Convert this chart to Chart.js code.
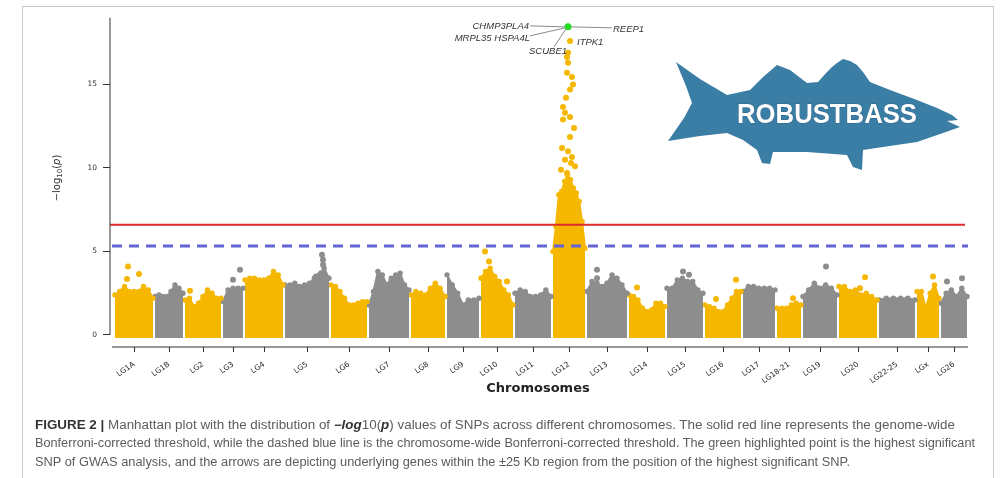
<!DOCTYPE html>
<html>
<head>
<meta charset="utf-8">
<script src="https://cdn.jsdelivr.net/npm/chart.js@4.4.0/dist/chart.umd.min.js"></script>
<style>
  html, body { margin: 0; padding: 0; background: #fff; }
  body { width: 1000px; height: 478px; position: relative; overflow: hidden; }
  #frame { position: absolute; left: 22px; top: 6px; width: 972px; height: 480px; border: 1.5px solid #c9c9c9; border-bottom: none; box-sizing: border-box; }
  #wrap { position: absolute; left: 0; top: 0; width: 1000px; height: 400px; }
  #logo { position: absolute; left: 0; top: 0; pointer-events: none; }
  .cap { position: absolute; left: 35px; white-space: nowrap; font-family: 'Liberation Sans Narrow', 'Liberation Sans', Arial, sans-serif; font-size: 12px; color: #5c5c5c; transform-origin: 0 0; }
  .cap b { color: #333; }
</style>
</head>
<body>
<div id="frame"></div>
<div id="wrap"><canvas id="myChart" width="1000" height="400"></canvas></div>

<svg id="logo" width="1000" height="478">
  <path fill="#3a7da5" d="M676,62 L700,79 L727,95 L750,90 L762,78 L777,65 L790,70 L807,83 L818,82
    L827,72 L832,67 L837,63 L843,59 L850,61 L857,65 L863,72 L870,82 L890,90 L917,100 L937,108
    L952,115 L958,120 L947,121 L960,127 L943,133 L917,142 L883,147 L863,150 L862,170 L853,167
    L847,155 L807,152 L773,152 L770,164 L762,163 L757,150 L743,140 L727,133 L700,136 L668,141
    L684,118 L692,103 L686,86 Z"/>
  <text x="737" y="123" textLength="180" lengthAdjust="spacingAndGlyphs"
    font-family="'Liberation Sans Narrow', 'Liberation Sans', Arial, sans-serif" font-weight="bold"
    font-size="28" fill="#fff" stroke="rgba(40,60,80,0.35)" stroke-width="0.8" paint-order="stroke">ROBUSTBASS</text>
</svg>

<div class="cap" id="cap1" style="top:418px"><b>FIGURE 2 |</b> Manhattan plot with the distribution of <b><i>−log</i></b>10(<b><i>p</i></b>) values of SNPs across different chromosomes. The solid red line represents the genome-wide</div>
<div class="cap" id="cap2" style="top:436px">Bonferroni-corrected threshold, while the dashed blue line is the chromosome-wide Bonferroni-corrected threshold. The green highlighted point is the highest significant</div>
<div class="cap" id="cap3" style="top:455px">SNP of GWAS analysis, and the arrows are depicting underlying genes within the ±25 Kb region from the position of the highest significant SNP.</div>

<script>
// chromosomen en hun lengte (Mb, ongeveer)
const chromosomes = ['LG1A', 'LG1B', 'LG2', 'LG3', 'LG4', 'LG5', 'LG6', 'LG7', 'LG8', 'LG9', 'LG10', 'LG11',
    'LG12', 'LG13', 'LG14', 'LG15', 'LG16', 'LG17', 'LG18-21', 'LG19', 'LG20', 'LG22-25', 'LGx', 'LG26'];
const chromLengths = [38, 28, 36, 20, 38, 44, 36, 40, 34, 32, 32, 36, 32, 40, 36, 36, 36, 32, 24, 34, 38, 36, 22, 26];
const chromGap = 2;

// bovenkant van de puntenwolk per chromosoom, -log10(p)
const envelope = [
    [2.4, 2.6, 2.9, 2.6, 2.6, 2.6, 2.9, 2.7, 2.2],
    [2.3, 2.4, 2.3, 2.3, 2.6, 3.0, 2.8, 2.5],
    [2.1, 2.2, 1.7, 1.9, 2.3, 2.7, 2.5, 2.2, 2.2],
    [2.0, 2.7, 2.8, 2.8, 2.8],
    [3.3, 3.4, 3.4, 3.3, 3.3, 3.4, 3.8, 3.6, 3.0],
    [3.0, 3.0, 3.1, 2.9, 3.0, 3.1, 3.4, 3.6, 4.0, 3.4],
    [3.0, 2.9, 2.6, 2.2, 1.8, 1.8, 1.9, 2.0, 2.0],
    [1.8, 2.6, 3.8, 3.6, 3.0, 3.4, 3.6, 3.7, 3.0, 2.7],
    [2.4, 2.6, 2.5, 2.4, 2.8, 3.1, 2.8, 2.3],
    [3.6, 3.0, 2.5, 1.8, 2.1, 2.1, 2.2],
    [3.4, 3.8, 4.0, 3.5, 3.2, 2.7, 2.4, 1.8],
    [2.5, 2.7, 2.6, 2.3, 2.3, 2.4, 2.7, 2.3],
    [5.0, 6.5, 8.4, 8.6, 9.2, 9.6, 9.3, 8.8, 8.5, 8.0, 6.8, 5.2],
    [2.6, 3.2, 3.1, 2.9, 3.1, 3.6, 3.4, 3.0, 2.5],
    [2.4, 2.3, 2.1, 1.6, 1.4, 1.5, 1.9, 1.9, 1.7],
    [2.8, 2.8, 3.3, 3.4, 3.2, 3.2, 2.7, 2.5],
    [1.8, 1.7, 1.6, 1.4, 1.4, 1.8, 2.2, 2.6, 2.6],
    [2.6, 2.9, 2.9, 2.8, 2.8, 2.8, 2.7],
    [1.6, 1.6, 1.6, 1.8, 1.9, 1.8],
    [2.3, 2.7, 3.1, 2.8, 3.0, 2.8, 2.4],
    [2.9, 2.9, 2.6, 2.7, 2.4, 2.5, 2.3, 2.1],
    [2.1, 2.2, 2.2, 2.2, 2.2, 2.1],
    [2.6, 2.6, 1.6, 2.5, 3.0, 2.2],
    [1.9, 2.5, 2.7, 2.3, 2.8, 2.3]
];

// losse SNPs boven de wolk
const hitChrom = ['LG1A', 'LG1A', 'LG1A', 'LG2', 'LG3', 'LG3', 'LG5', 'LG5', 'LG5', 'LG5', 'LG5', 'LG10', 'LG10', 'LG10',
    'LG13', 'LG13', 'LG14', 'LG15', 'LG15', 'LG16', 'LG16', 'LG18-21', 'LG19', 'LG20', 'LG20', 'LGx', 'LG26', 'LG26'];
const hitPos = [13, 12, 24, 5, 17, 10, 37, 38, 38, 36, 31, 4, 8, 26, 10, 10, 8, 16, 22, 11, 31, 16, 23, 26, 21, 16, 6, 21];
const hitValue = [4.1, 3.35, 3.65, 2.65, 3.9, 3.3, 4.8, 4.5, 4.2, 3.7, 3.5, 5.0, 4.4, 3.2, 3.9, 3.4, 2.85, 3.8, 3.6, 2.15, 3.3,
    2.2, 4.1, 3.45, 2.8, 3.5, 3.2, 3.4];

// piek op LG12
const peakPos = [17, 15, 14, 15, 14, 19, 20, 17, 13, 10, 12, 17, 10, 21, 17, 9, 15, 19, 12, 22, 14, 8, 18];
const peakValue = [17.6, 16.9, 16.65, 16.3, 15.7, 15.45, 15.0, 14.7, 14.2, 13.65, 13.3, 13.05, 12.9, 12.4, 11.85, 11.2, 11.0,
    10.65, 10.5, 10.1, 9.7, 9.9, 10.3];
const topSnpPos = 15;
const topSnpValue = 18.45;
const genes = ['CHMP3PLA4', 'MRPL35 HSPA4L', 'SCUBE1', 'ITPK1', 'REEP1'];

const genomeWide = 6.6;
const chromosomeWide = 5.33;
const yTicks = [0, 5, 10, 15];
const yAxisTop = 19;

const orange = '#f5b700';
const grey = '#8d8d8d';

// begin van elk chromosoom op de genoom-as
const chromStart = [];
chromLengths.reduce((pos, len) => { chromStart.push(pos); return pos + len + chromGap; }, 0);
const chromCenter = chromStart.map((s, i) => s + chromLengths[i] / 2);
const genomeEnd = chromStart[chromStart.length - 1] + chromLengths[chromLengths.length - 1];
const colorOf = i => (i % 2 === 0 ? orange : grey);
const lg12 = chromosomes.indexOf('LG12');

const datasets = [];

// puntenwolk per chromosoom
envelope.forEach((vals, i) => {
    const step = chromLengths[i] / (vals.length - 1);
    datasets.push({
        type: 'line',
        data: vals.map((v, j) => ({ x: chromStart[i] + j * step, y: v })),
        borderColor: colorOf(i),
        backgroundColor: colorOf(i),
        borderWidth: 2,
        pointRadius: 2.7,
        pointBorderWidth: 0,
        pointBackgroundColor: colorOf(i),
        fill: { value: -0.18 },
        tension: 0,
        order: 3
    });
});

datasets.push({
    data: hitChrom.map((c, k) => ({ x: chromStart[chromosomes.indexOf(c)] + hitPos[k], y: hitValue[k] })),
    pointRadius: 3,
    pointBorderWidth: 0,
    pointBackgroundColor: hitChrom.map(c => colorOf(chromosomes.indexOf(c))),
    order: 2
});

datasets.push({
    data: peakPos.map((p, k) => ({ x: chromStart[lg12] + p, y: peakValue[k] })),
    pointRadius: 3,
    pointBorderWidth: 0,
    pointBackgroundColor: orange,
    order: 1
});

datasets.push({
    data: [{ x: chromStart[lg12] + topSnpPos, y: topSnpValue }],
    pointRadius: 3.5,
    pointBorderWidth: 0,
    pointBackgroundColor: '#22dd22',
    order: 0
});

// Drempellijnen, assen en genlabels
const manhattanExtras = {
    id: 'manhattanExtras',
    afterDatasetsDraw(chart) {
        const { ctx, chartArea: { left, right }, scales: { x, y } } = chart;
        const xEnd = x.getPixelForValue(genomeEnd);
        ctx.save();
        ctx.strokeStyle = '#de2b2b';
        ctx.lineWidth = 2;
        ctx.beginPath();
        ctx.moveTo(left, y.getPixelForValue(genomeWide));
        ctx.lineTo(xEnd - 2, y.getPixelForValue(genomeWide));
        ctx.stroke();

        ctx.strokeStyle = '#6464d6';
        ctx.lineWidth = 3;
        ctx.setLineDash([10, 7]);
        ctx.beginPath();
        ctx.moveTo(left + 2, y.getPixelForValue(chromosomeWide));
        ctx.lineTo(xEnd + 1, y.getPixelForValue(chromosomeWide));
        ctx.stroke();
        ctx.setLineDash([]);

        // genlabels rond de topSNP
        const gx = x.getPixelForValue(chromStart[lg12] + topSnpPos);
        const gy = y.getPixelForValue(topSnpValue);
        ctx.strokeStyle = '#8a8a8a';
        ctx.lineWidth = 1;
        const seg = (x1, y1, x2, y2) => { ctx.beginPath(); ctx.moveTo(x1, y1); ctx.lineTo(x2, y2); ctx.stroke(); };
        seg(gx - 38, gy - 1, gx - 3, gy);
        seg(gx - 38, gy + 9, gx - 3, gy + 1);
        seg(gx - 14, gy + 20, gx - 2, gy + 2);
        seg(gx + 3, gy, gx + 44, gy + 1);

        ctx.fillStyle = '#333';
        ctx.font = 'italic 9.5px "Liberation Sans", Arial, sans-serif';
        ctx.textBaseline = 'middle';
        ctx.textAlign = 'right';
        ctx.fillText(genes[0], gx - 39, gy - 1);
        ctx.fillText(genes[1], gx - 38, gy + 11);
        ctx.fillText(genes[2], gx - 1, gy + 24);
        ctx.textAlign = 'left';
        ctx.fillText(genes[3], gx + 9, gy + 15);
        ctx.fillText(genes[4], gx + 45, gy + 2);
        ctx.restore();
    },
    afterDraw(chart) {
        const { ctx, chartArea: { left, right, top, bottom }, scales: { x, y } } = chart;
        ctx.save();
        ctx.strokeStyle = '#333';
        ctx.lineWidth = 1;
        // y-as (R-stijl)
        ctx.beginPath();
        ctx.moveTo(left, y.getPixelForValue(0));
        ctx.lineTo(left, y.getPixelForValue(yAxisTop));
        ctx.stroke();
        // x-as
        ctx.beginPath();
        ctx.moveTo(left + 2, bottom);
        ctx.lineTo(right - 2, bottom);
        ctx.stroke();

        // astitels
        ctx.fillStyle = '#222';
        ctx.font = 'bold 13px "DejaVu Sans", sans-serif';
        ctx.textAlign = 'center';
        ctx.textBaseline = 'middle';
        ctx.fillText('Chromosomes', (left + right) / 2 - 2, 389);

        ctx.translate(57, (top + bottom) / 2 - 2);
        ctx.rotate(-Math.PI / 2);
        const big = '10px "DejaVu Sans", sans-serif';
        const small = '7px "DejaVu Sans", sans-serif';
        const parts = [['−log', big, 0], ['10', small, 3], ['(', big, 0], ['p', 'italic ' + big, 0], [')', big, 0]];
        const widths = parts.map(p => { ctx.font = p[1]; return ctx.measureText(p[0]).width; });
        let px = -widths.reduce((a, b) => a + b, 0) / 2;
        ctx.textAlign = 'left';
        ctx.fillStyle = '#333';
        parts.forEach((p, k) => {
            ctx.font = p[1];
            ctx.fillText(p[0], px, p[2]);
            px += widths[k];
        });
        ctx.restore();
    }
};

const ctx = document.getElementById('myChart').getContext('2d');
new Chart(ctx, {
    type: 'scatter',
    data: { datasets: datasets },
    options: {
        responsive: false,
        animation: false,
        layout: { padding: { left: 0, right: 30, top: 13, bottom: 0 } },
        plugins: { legend: { display: false }, tooltip: { enabled: false } },
        scales: {
            x: {
                type: 'linear',
                min: -5,
                max: 855,
                afterBuildTicks: scale => { scale.ticks = chromCenter.map(v => ({ value: v })); },
                afterFit: scale => { scale.height = 53; },
                border: { display: false },
                grid: { drawOnChartArea: false, drawTicks: true, tickLength: 5, color: '#333' },
                ticks: {
                    autoSkip: false,
                    minRotation: 35,
                    maxRotation: 35,
                    padding: 8,
                    color: '#222',
                    font: { family: 'DejaVu Sans', size: 7.5 },
                    callback: (value, index) => chromosomes[index]
                }
            },
            y: {
                min: -0.72,
                max: 19.28,
                afterBuildTicks: scale => { scale.ticks = yTicks.map(v => ({ value: v })); },
                afterFit: scale => { scale.width = 110; },
                border: { display: false },
                grid: { drawOnChartArea: false, drawTicks: true, tickLength: 7, color: '#333' },
                ticks: {
                    padding: 6,
                    color: '#333',
                    font: { family: 'DejaVu Sans', size: 7.5 },
                    callback: v => String(v)
                }
            }
        }
    },
    plugins: [manhattanExtras]
});

// onderschrift passend maken
const capWidths = { cap1: 920, cap2: 940, cap3: 815 };
Object.keys(capWidths).forEach(id => {
    const el = document.getElementById(id);
    const w = el.getBoundingClientRect().width;
    el.style.transform = `scaleX(${capWidths[id] / w})`;
});
</script>
</body>
</html>
